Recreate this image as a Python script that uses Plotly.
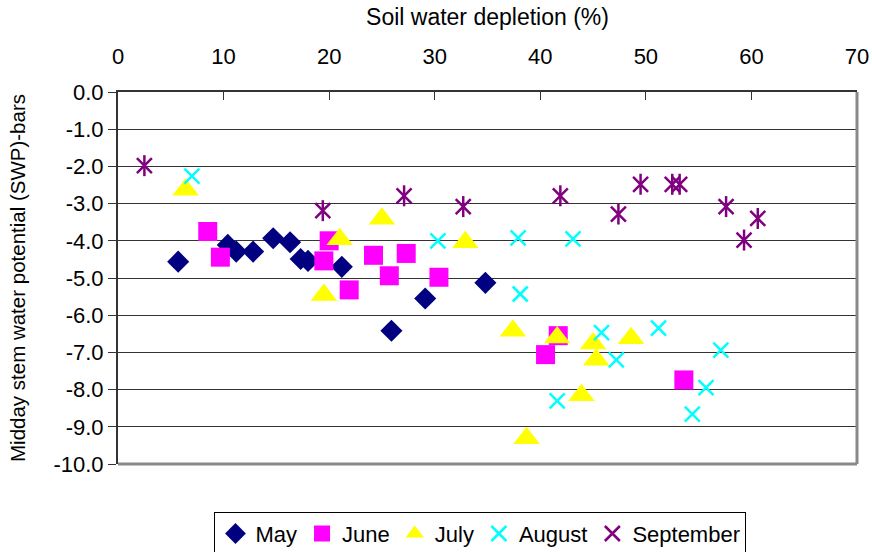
import plotly.graph_objects as go

# Soil water depletion (%) and midday stem water potential (bars), by month
may_x = [5.7, 10.4, 11.2, 12.8, 14.7, 16.3, 17.3, 18.0, 21.2, 25.9, 29.1, 34.8]
may_y = [-4.56, -4.11, -4.29, -4.29, -3.93, -4.04, -4.49, -4.54, -4.70, -6.42, -5.55, -5.13]

june_x = [8.5, 9.7, 19.5, 20.0, 21.9, 24.2, 25.7, 27.3, 30.4, 40.5, 41.7, 53.6]
june_y = [-3.75, -4.44, -4.54, -4.00, -5.32, -4.39, -4.94, -4.34, -4.98, -7.06, -6.55, -7.74]

july_x = [6.4, 19.5, 21.0, 25.0, 32.9, 37.4, 38.7, 41.6, 43.9, 45.0, 45.3, 48.6]
july_y = [-2.63, -5.46, -3.96, -3.41, -4.04, -6.42, -9.31, -6.60, -8.15, -6.76, -7.20, -6.62]

aug_x = [7.0, 30.3, 37.9, 38.1, 41.6, 43.1, 45.8, 47.2, 51.2, 54.4, 55.7, 57.1]
aug_y = [-2.26, -4.00, -3.92, -5.43, -8.30, -3.95, -6.47, -7.20, -6.35, -8.66, -7.95, -6.94]

sep_x = [2.5, 19.4, 27.1, 32.7, 41.9, 47.4, 49.5, 52.5, 53.2, 57.6, 59.3, 60.6]
sep_y = [-1.98, -3.19, -2.79, -3.08, -2.79, -3.28, -2.48, -2.48, -2.48, -3.08, -3.98, -3.40]

x_ticks = [0, 10, 20, 30, 40, 50, 60, 70]
y_ticks = [0, -1, -2, -3, -4, -5, -6, -7, -8, -9, -10]
y_tick_text = ["0.0", "-1.0", "-2.0", "-3.0", "-4.0", "-5.0", "-6.0", "-7.0", "-8.0", "-9.0", "-10.0"]

FONT = "Liberation Sans, Arial, sans-serif"

fig = go.Figure()

fig.add_trace(go.Scatter(
    x=may_x, y=may_y, mode="markers", name="May",
    marker=dict(symbol="diamond", size=17, color="#000080", line=dict(width=0)),
))
fig.add_trace(go.Scatter(
    x=june_x, y=june_y, mode="markers", name="June",
    marker=dict(symbol="square", size=19, color="#FF00FF", line=dict(width=0)),
))
fig.add_trace(go.Scatter(
    x=july_x, y=july_y, mode="markers", name="July",
    marker=dict(symbol="triangle-up", size=23, color="#FFFF00", line=dict(width=0)),
))
fig.add_trace(go.Scatter(
    x=aug_x, y=aug_y, mode="markers", name="August",
    marker=dict(symbol="x-thin-open", size=15, color="#00FFFF",
                line=dict(width=2.5, color="#00FFFF")),
))
# September star: diagonal cross plus a vertical stroke
fig.add_trace(go.Scatter(
    x=sep_x, y=sep_y, mode="markers", name="September", legendgroup="sep",
    marker=dict(symbol="x-thin-open", size=15, color="#800080",
                line=dict(width=2.5, color="#800080")),
))
fig.add_trace(go.Scatter(
    x=sep_x, y=sep_y, mode="markers", name="September", legendgroup="sep",
    showlegend=False,
    marker=dict(symbol="line-ns-open", size=15, color="#800080",
                line=dict(width=2.5, color="#800080")),
))

fig.update_layout(
    width=872, height=552,
    margin=dict(l=118, r=15, t=92, b=88),
    paper_bgcolor="white", plot_bgcolor="white",
    font=dict(family=FONT, color="black", size=22),
    legend=dict(
        orientation="h", xref="container", yref="container",
        x=0.551, xanchor="center", y=0.073, yanchor="top",
        bordercolor="black", borderwidth=1, font=dict(size=22, family=FONT),
        itemsizing="trace", traceorder="normal",
    ),
    xaxis=dict(
        side="top", range=[0, 70], tickvals=x_ticks, automargin=False,
        ticks="inside", ticklen=8, tickcolor="#333333", tickwidth=1,
        showline=True, linecolor="#333333", linewidth=2,
        showgrid=False, zeroline=False,
        tickfont=dict(size=22), ticklabelstandoff=17,
        title=dict(text="Soil water depletion (%)", font=dict(size=23), standoff=12),
    ),
    yaxis=dict(
        range=[-10, 0], tickvals=y_ticks, ticktext=y_tick_text, automargin=False,
        ticks="outside", ticklen=8, tickcolor="#333333", tickwidth=1,
        showline=True, linecolor="#333333", linewidth=2,
        showgrid=True, gridcolor="#333333", gridwidth=1, zeroline=False,
        tickfont=dict(size=22),
        title=dict(text="Midday stem water potential (SWP)-bars", font=dict(size=20.5), standoff=22),
    ),
    shapes=[
        dict(type="line", xref="paper", yref="paper", x0=1, x1=1, y0=0, y1=1,
             line=dict(color="#888888", width=3)),
        dict(type="line", xref="paper", yref="paper", x0=0, x1=1, y0=0, y1=0,
             line=dict(color="#888888", width=3)),
    ],
)

fig.write_html("out.html")
